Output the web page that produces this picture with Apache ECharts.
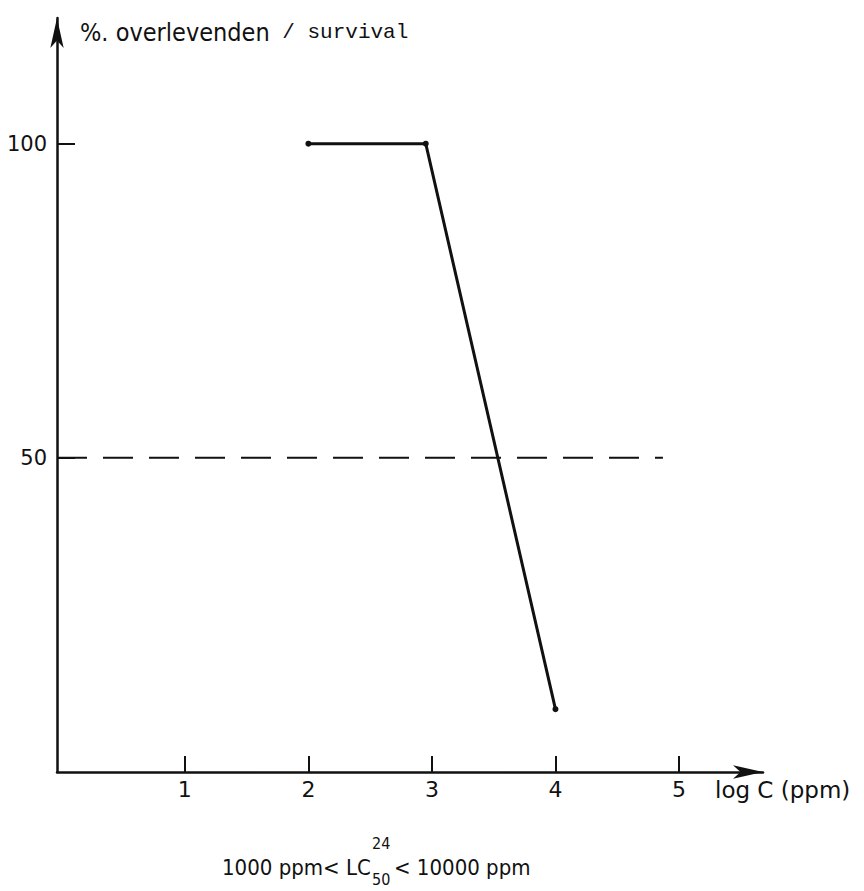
<!DOCTYPE html>
<html>
<head>
<meta charset="utf-8">
<script src="https://cdn.jsdelivr.net/npm/echarts@6/dist/echarts.min.js"></script>
<style>
  html, body { margin: 0; padding: 0; background: #fff; }
  #chart { width: 864px; height: 891px; }
</style>
</head>
<body>
<div id="chart"></div>
<script>
// Survival (%) against log concentration (ppm)
const logConc = [2, 2.95, 4];
const survival = [100, 100, 10];

// Tick positions shown on each axis
const xTicks = [1, 2, 3, 4, 5];
const yTicks = [50, 100];

// 50 % survival guide line
const lc50Level = 50;
const lc50GuideStart = -0.035;
const lc50GuideEnd = 4.87;

const ink = '#111';
const sans = 'DejaVu Sans';
const condensed = 'DejaVu Sans Condensed';

const chart = echarts.init(document.getElementById('chart'), null, { renderer: 'svg' });

chart.setOption({
  animation: false,
  backgroundColor: '#fff',
  title: {
    text: '{a|%. overlevenden}{b| / survival}',
    left: 75,
    top: 15,
    textStyle: {
      fontWeight: 'normal',
      rich: {
        a: { fontFamily: condensed, fontSize: 25, fontWeight: 'normal', color: ink },
        b: { fontFamily: 'Liberation Mono', fontSize: 21, fontWeight: 'normal', color: ink }
      }
    }
  },
  grid: { left: 57, right: 101, top: 18, bottom: 119 },
  xAxis: {
    type: 'value',
    min: -0.035,
    max: 5.68,
    splitLine: { show: false },
    axisLine: {
      onZero: false,
      symbol: ['none', 'arrow'],
      symbolSize: [10, 30],
      lineStyle: { color: ink, width: 2.5 }
    },
    axisTick: {
      inside: true,
      length: 16,
      customValues: xTicks,
      lineStyle: { color: ink, width: 2 }
    },
    axisLabel: {
      customValues: xTicks,
      margin: 6,
      fontFamily: sans,
      fontSize: 22,
      color: ink
    },
    name: 'log C (ppm)',
    nameLocation: 'end',
    nameGap: -48,
    nameTextStyle: {
      fontFamily: sans,
      fontSize: 23,
      color: ink,
      align: 'left',
      verticalAlign: 'top',
      padding: [6, 0, 0, 0]
    }
  },
  yAxis: {
    type: 'value',
    min: 0,
    max: 120,
    splitLine: { show: false },
    axisLine: {
      onZero: false,
      symbol: ['none', 'arrow'],
      symbolSize: [10, 30],
      lineStyle: { color: ink, width: 2.5 }
    },
    axisTick: {
      inside: true,
      length: 18,
      customValues: yTicks,
      lineStyle: { color: ink, width: 2 }
    },
    axisLabel: {
      customValues: yTicks,
      margin: 10,
      fontFamily: sans,
      fontSize: 21,
      color: ink
    }
  },
  graphic: [
    {
      type: 'group',
      left: 222,
      top: 835,
      children: [
        { type: 'text', x: 0, y: 34, style: { text: '1000 ppm< LC', fontFamily: condensed, fontSize: 22, fill: ink, verticalAlign: 'middle' } },
        { type: 'text', x: 150, y: 10, style: { text: '24', fontFamily: condensed, fontSize: 16, fill: ink, verticalAlign: 'middle' } },
        { type: 'text', x: 150, y: 46, style: { text: '50', fontFamily: condensed, fontSize: 16, fill: ink, verticalAlign: 'middle' } },
        { type: 'text', x: 172, y: 34, style: { text: '< 10000 ppm', fontFamily: condensed, fontSize: 22, fill: ink, verticalAlign: 'middle' } }
      ]
    }
  ],
  series: [
    {
      type: 'line',
      data: logConc.map((x, i) => [x, survival[i]]),
      symbol: 'circle',
      symbolSize: 6,
      itemStyle: { color: ink },
      lineStyle: { color: ink, width: 3 },
      z: 3
    },
    {
      type: 'line',
      data: [[lc50GuideStart, lc50Level], [lc50GuideEnd, lc50Level]],
      symbol: 'none',
      lineStyle: { color: ink, width: 2, type: [30, 16] },
      z: 2
    }
  ]
});
</script>
</body>
</html>
